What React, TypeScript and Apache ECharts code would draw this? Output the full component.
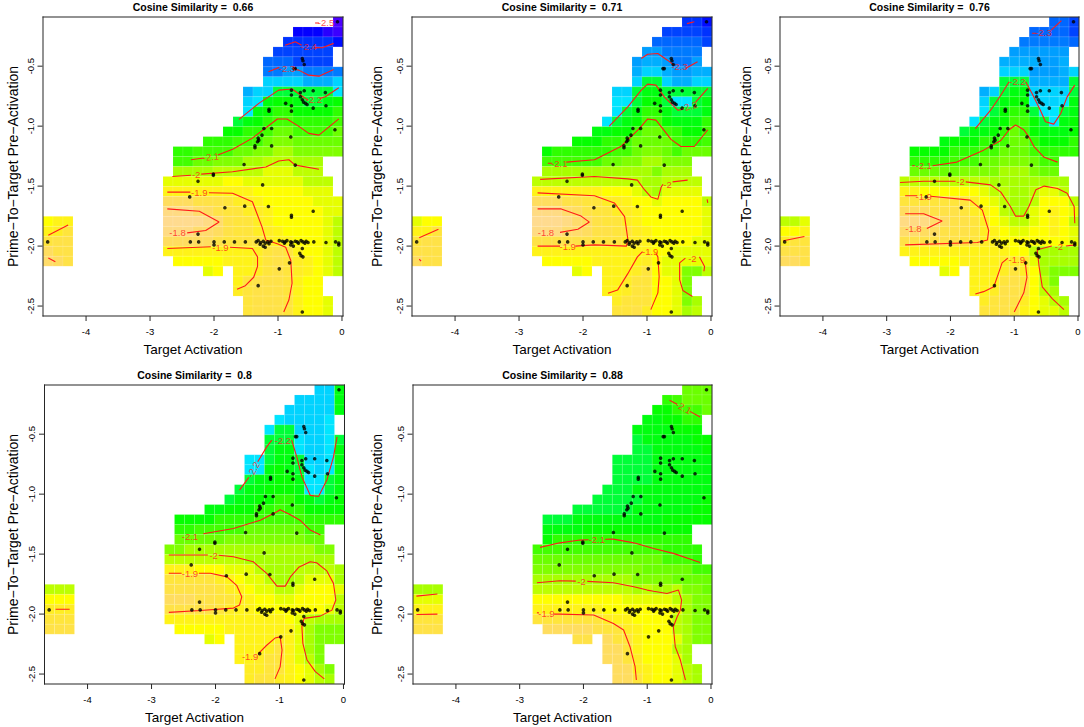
import React, { useEffect, useRef } from "react";
import * as echarts from "echarts";

const FONT = "'Liberation Sans', Arial, Helvetica, sans-serif";
const X_MIN = -4.673, X_MAX = 0.016, Y_MIN = -2.583, Y_MAX = -0.09;
const NCOL = 30, NROW = 30;
const DX = (X_MAX - X_MIN) / NCOL, DY = (Y_MAX - Y_MIN) / NROW;
const Z_MIN = -2.52, Z_MAX = -1.70;
// z = -2.55 + 0.025 * index of char; "." = cell outside the colour range (left blank)
const LEVELS = "0123456789ABCDEFGHIJKLMNOPQRSTUVWX";
const X_TICKS = [-4, -3, -2, -1, 0];
const Y_TICKS = [-2.5, -2, -1.5, -1, -0.5];
const TITLES = ["0.66", "0.71", "0.76", "0.8", "0.88"];

// filled column ranges per grid row (row 0 = top)
const MASK: number[][][] = [
  [[27, 29]], [[25, 29]], [[24, 29]], [[23, 28]], [[22, 28]], [[22, 29]], [[22, 29]],
  [[20, 29]], [[20, 29]], [[20, 29]], [[19, 29]], [[18, 29]], [[16, 29]], [[13, 29]],
  [[13, 27]], [[13, 27]], [[12, 28]], [[12, 28]], [[12, 29]], [[12, 29]],
  [[0, 2], [12, 29]], [[0, 2], [12, 29]], [[0, 2], [12, 29]], [[0, 2], [12, 29]],
  [[0, 2], [13, 29]], [[16, 17], [19, 29]], [[19, 27]], [[19, 27]], [[20, 28]], [[20, 28]],
];

const Z_066 = [
  "..0", "44432", "666665", "777777", "8887777", "99AA9999", "CCCCBBBC",
  "BCCEEEEEED", "CDFGGFEEFG", "DFGHHGGGGH", "EFGHIIHHHHI", "GGHHIJJIIIIJ",
  "HHHIIIJKKJJJJJ", "HHIIIIJJKKLLKKKKK", "IIJJKKKLLMMMLLL", "LLLLMMMMMNNNMMM",
  "NNNNNNOONNNNNNMMM", "PPPPPPPPPOOOOONNN", "TTTSSSRQQPOOOOONNN", "VVVUTSRRQQPOOOOONN",
  "OPPWWWWVUSRRQPOOOOONM", "PQRVVVUUTSRRQQPOOOONM", "RSSTTTTTSRRRRQPPOOONM",
  "TSSPPPPPPPPPQRSRPOONM", "UTSOOOOOPPPQRSRQPONM", "NOPPQRSRQPONM",
  "PRSSSRPOO", "QRSSSRPOO", "RSSSRPOON", "RSSSRPOON",
];
const Z_071 = [
  "665", "77776", "888887", "AA9999", "ABBA99A", "BCCBAABB", "CEECBBCC",
  "CCEFFEEEEE", "DDEGGEDDEF", "DEFHHFEEEF", "DEFGIIGFFFH", "FFGGIJJIHGGI",
  "GGGHHIJJJJIHHI", "GHHHHHHIIJKKJIJJJ", "IIIIIIJJKKLLKKK", "LLLLLLLLLLLKLLL",
  "MMMMMMMMMMMLLMMMM", "PPPPPPPOOONMLNNNN", "TTTSSRRQQPOONOOOOM", "VVVUTSRRQQPOOOOOON",
  "NOOWWWVUTSRRQPOOOOOON", "PPRVVVUUTSSRRQPOOOOON", "RSSSSSSSSRRRQQPOOOONN",
  "SSSPPPPPPPPPPPPOONNNN", "TSSOOOOOPPPPPQONNNNN", "NOPPPQRONNKKM",
  "PPQRROONK", "PPQRROONK", "QRRROONKL", "RRSQOONLM",
];
const Z_076 = [
  "887", "88887", "999998", "AAAAAA", "BBBBAAB", "CCCAAABC", "EEEBBBBE",
  "BCEFFCCCCE", "CEFGGDCCDF", "DEGHHEDDEF", "DEFGIIGEDFG", "EFFGHJIGFFFG",
  "FGGGHHIJJHGGGH", "GGGGHHHIIJJJIHHHH", "HHHHIIIJJKKKJII", "JJJJJKKKKLLLKJJ",
  "MMMMMMMMMLLLLLLLL", "PPOOOOOONMMLLMNNM", "RRRRRRRQONMLLMOOOM", "TTTSSSRQPOMLLNOPON",
  "MMNVVVUTSSRQONMMNOPOM", "OOPUUTTSSSRQPONNOOPON", "QRRSSSSSSRRQPOOOOOOON",
  "SSSPPPPPPPPPPPOOMLLLL", "TTSOOOOOPPPPQQQNLLLL", "NOPPPQRQOLKKK",
  "PPPRSROMK", "PPQSSROML", "QRSSQONML", "RRSRPONNM",
];
const Z_080 = [
  "CCF", "CCCCF", "CCCCCF", "DCCCCD", "DEECCCD", "EEEDCCDE", "EFFDCCDF",
  "DDEFFECCDF", "DDFGFEDCDF", "EFFGGFDDEF", "EFFGGGFDDEF", "EFFGGHHGFEFG",
  "FFGGGHHIHHGGGG", "GGGGHHHHIIIIIHHHH", "HHIIIIIJJJJJJII", "JJJJJKKKKKKKKJJ",
  "KKLLLLLLLLLLLLLKK", "MMMMMMMMLLLLLLLLL", "PPPOOONNNMLLLMMMML", "RRRRRQPONNMLLMNNNL",
  "MMMSSSSSRQPONNMMNOOON", "OOOTTTSSRRQPOONNOOOOM", "QQQSSSSSRQPPOOOOOOONM",
  "RRRPPPPPPPPPPPPONMLLL", "SSSOOOOOPPPPPPPNLKKK", "NOPPPPQPNLKKK",
  "PPPQRPNLK", "PPQRRPNMK", "QQRRPONLK", "QRRQPONML",
];
const Z_088 = [
  "JJJ", "HIJJJ", "GGHIIJ", "FFGGHH", "FFFFGGG", "EFFFFFGG", "EEFFFFFG",
  "EEEEFFFFFF", "EEEEFFFFFF", "EEEEFFFFFF", "EEEFFFFFFFF", "EEEEEFFFFFFG",
  "EEEEEEFFFFFFGG", "EEEFFFFFFFFFGGGGG", "FFFFGGGGGGGGGGG", "GHHHHHHHHHHHHHH",
  "IIIIIIIIIIIIIHHHH", "JJJJJJJJJJJJJIIIH", "KKKKKKKKKKKJJJJJII", "LLLLLLLLLLKKKKJJJJ",
  "LLLMMMMMMMMMMLMLLMKKJ", "NNNOOOOOOOOONNNNNMLKK", "PPPPPPPPPPOOOOOOONLKK",
  "RRRRRRRRRRQPPOOOOMLKK", "SSSTTTTTSRRQPOOOMLKK", "SSTRRPOOONLKK",
  "TTRPOOOML", "TTRQOOONL", "TTQPOONML", "TTRPOONML",
];

const POINTS = [
  [-4.6, -1.965],
  [-2.37, -1.965], [-2.24, -1.965], [-2.0, -1.965], [-1.84, -1.965], [-1.68, -1.965], [-1.51, -1.965],
  [-1.34, -1.965], [-1.31, -1.955], [-1.27, -1.97], [-1.23, -1.96], [-1.2, -1.975], [-1.16, -1.965],
  [-1.11, -1.96], [-0.98, -1.955], [-0.93, -1.96], [-0.89, -1.965], [-0.86, -1.955], [-0.8, -1.965],
  [-0.78, -1.97], [-0.73, -1.96], [-0.7, -1.965], [-0.64, -1.955], [-0.61, -1.965], [-0.56, -1.96],
  [-0.53, -1.97], [-0.44, -1.965], [-0.25, -1.97], [-0.1, -1.965], [-0.05, -1.975],
  [-2.0, -1.99], [-1.23, -2.0], [-1.2, -2.01], [-1.28, -1.985], [-0.8, -1.99], [-0.76, -2.0],
  [-0.62, -2.02], [-0.66, -2.06], [-0.64, -2.08], [-0.61, -2.09], [-0.82, -2.14], [-0.98, -2.19],
  [-1.31, -2.33], [-0.62, -2.55], [-2.25, -1.9], [-0.05, -1.99], [-0.68, -1.975], [-0.58, -1.975],
  [-0.9, -1.975], [-1.14, -1.98],
  [-2.38, -1.59], [-2.25, -1.46], [-2.01, -1.4], [-2.01, -1.41], [-1.83, -1.68], [-1.52, -1.667],
  [-1.53, -1.32], [-1.24, -1.49], [-1.15, -1.67], [-0.79, -1.744], [-0.79, -1.76], [-0.45, -1.71],
  [-0.73, -1.325], [-0.8, -1.09], [-1.1, -1.165], [-1.36, -1.165], [-1.36, -1.18], [-1.32, -1.13],
  [-1.3, -1.117], [-1.31, -1.1], [-1.25, -1.075], [-1.22, -1.02], [-1.1, -1.02], [-0.11, -1.03],
  [-1.14, -0.86], [-1.14, -0.875], [-0.79, -0.875], [-0.79, -0.83], [-0.45, -0.85], [-0.25, -0.83],
  [-0.88, -0.81], [-0.62, -0.78], [-0.6, -0.8], [-0.57, -0.81], [-0.545, -0.82], [-0.79, -0.7],
  [-0.59, -0.705], [-0.65, -0.72], [-0.45, -0.705], [-0.26, -0.72], [-0.79, -0.74], [-0.65, -0.755],
  [-0.75, -0.52], [-0.73, -0.52], [-0.62, -0.436], [-0.61, -0.455], [-0.59, -0.486], [-0.07, -0.13],
];

type Contour = { lv: string; segs: number[][][]; labels: number[][] };

const CONTOURS_066: Contour[] = [
  { lv: "-2.5", segs: [[[-0.42, -0.14], [-0.36, -0.14]]], labels: [[-0.25, -0.14, 0]] },
  { lv: "-2.4", segs: [[[-0.89, -0.325], [-0.73, -0.297], [-0.63, -0.325]], [[-0.42, -0.345], [-0.31, -0.347], [-0.13, -0.31]]], labels: [[-0.52, -0.34, 0]] },
  { lv: "-2.3", segs: [[[-1.15, -0.547], [-0.98, -0.51]], [[-0.75, -0.525], [-0.675, -0.533], [-0.52, -0.575], [-0.36, -0.583], [-0.13, -0.528]]], labels: [[-0.86, -0.52, 0]] },
  { lv: "-2.2", segs: [[[-1.61, -0.944], [-1.3, -0.81], [-0.99, -0.7], [-0.78, -0.69], [-0.57, -0.77], [-0.53, -0.78]], [[-0.35, -0.77], [-0.26, -0.755], [-0.05, -0.68]]], labels: [[-0.44, -0.78, 0]] },
  { lv: "-2.1", segs: [[[-2.36, -1.28], [-2.16, -1.265]], [[-1.94, -1.24], [-1.7, -1.19], [-1.4, -1.1], [-1.01, -0.94], [-0.86, -0.94], [-0.68, -1.0], [-0.52, -1.06], [-0.36, -1.075], [-0.05, -0.94]]], labels: [[-2.05, -1.255, 5]] },
  { lv: "-2", segs: [[[-2.65, -1.42], [-2.36, -1.41]], [[-2.2, -1.4], [-1.71, -1.38], [-1.19, -1.34], [-0.99, -1.29], [-0.83, -1.28], [-0.73, -1.325], [-0.36, -1.36]]], labels: [[-2.28, -1.405, 0]] },
  { lv: "-1.9", segs: [[[-2.73, -1.55], [-2.37, -1.55]], [[-2.08, -1.555], [-1.71, -1.56], [-1.4, -1.63], [-1.25, -1.84], [-1.19, -1.95], [-1.01, -1.98], [-0.88, -2.01], [-0.8, -2.12], [-0.78, -2.31], [-0.83, -2.45], [-0.91, -2.55]]], labels: [[-2.23, -1.55, 0]] },
  { lv: "-1.8", segs: [[[-2.73, -1.69], [-2.23, -1.71], [-1.92, -1.8], [-2.13, -1.87], [-2.42, -1.89]]], labels: [[-2.57, -1.89, 0]] },
  { lv: "-1.9", segs: [[[-2.73, -2.02], [-2.05, -2.005]], [[-1.75, -2.01], [-1.4, -2.02], [-1.32, -2.09], [-1.32, -2.17], [-1.38, -2.26], [-1.51, -2.33], [-1.64, -2.36]]], labels: [[-1.9, -2.01, 0]] },
  { lv: "", segs: [[[-4.59, -1.91], [-4.28, -1.825]], [[-4.59, -2.1], [-4.48, -2.13]]], labels: [] },
];
const CONTOURS_071: Contour[] = [
  { lv: "", segs: [[[-0.375, -0.145], [-0.26, -0.13]]], labels: [] },
  { lv: "-2.3", segs: [[[-1.09, -0.436], [-0.99, -0.4], [-0.83, -0.394], [-0.68, -0.45], [-0.58, -0.49]], [[-0.4, -0.52], [-0.21, -0.464]]], labels: [[-0.49, -0.505, 0]] },
  { lv: "-2.2", segs: [[[-1.59, -1.0], [-1.3, -0.839], [-1.09, -0.7], [-0.99, -0.65], [-0.86, -0.658], [-0.73, -0.756], [-0.52, -0.867], [-0.45, -0.86]], [[-0.24, -0.8], [-0.05, -0.686]]], labels: [[-0.34, -0.835, 15]] },
  { lv: "-2.1", segs: [[[-2.55, -1.31], [-2.48, -1.31]], [[-2.26, -1.3], [-1.82, -1.28], [-1.41, -1.17], [-1.12, -1.02], [-0.99, -0.94], [-0.86, -0.95], [-0.755, -1.02], [-0.625, -1.11], [-0.47, -1.17], [-0.26, -1.17], [-0.05, -1.03]]], labels: [[-2.37, -1.31, 0]] },
  { lv: "-2", segs: [[[-2.67, -1.444], [-1.82, -1.42], [-1.3, -1.44], [-1.15, -1.45], [-1.04, -1.53], [-0.94, -1.59], [-0.83, -1.61], [-0.78, -1.51], [-0.75, -1.485]], [[-0.6, -1.465], [-0.365, -1.45]], [[-0.06, -1.61], [-0.05, -1.64]]], labels: [[-0.68, -1.49, 0]] },
  { lv: "-1.9", segs: [[[-2.71, -1.556], [-1.82, -1.58], [-1.51, -1.64], [-1.35, -1.755], [-1.3, -1.94], [-1.32, -2.0], [-1.82, -1.99], [-2.12, -2.0]], [[-2.36, -2.0], [-2.71, -2.0]]], labels: [[-2.24, -2.0, 0]] },
  { lv: "-1.8", segs: [[[-2.71, -1.69], [-2.34, -1.69], [-2.03, -1.75], [-1.9, -1.8], [-2.08, -1.86], [-2.36, -1.886]]], labels: [[-2.58, -1.886, 0]] },
  { lv: "-1.9", segs: [[[-1.61, -2.394], [-1.46, -2.367], [-1.3, -2.23], [-1.15, -2.09], [-1.07, -2.047]], [[-0.86, -2.06], [-0.83, -2.09], [-0.81, -2.255], [-0.83, -2.39], [-0.94, -2.53]]], labels: [[-0.95, -2.047, 0]] },
  { lv: "-2", segs: [[[-0.29, -2.42], [-0.44, -2.37], [-0.49, -2.28], [-0.49, -2.14], [-0.4, -2.1]], [[-0.18, -2.09], [-0.1, -2.17], [-0.11, -2.21]]], labels: [[-0.29, -2.1, 0]] },
  { lv: "", segs: [[[-4.56, -1.93], [-4.26, -1.86]], [[-4.56, -2.11], [-4.53, -2.125]]], labels: [] },
];
const CONTOURS_076: Contour[] = [
  { lv: "-2.3", segs: [[[-0.72, -0.225], [-0.66, -0.225]], [[-0.42, -0.2], [-0.26, -0.12]]], labels: [[-0.54, -0.222, 0]] },
  { lv: "-2.2", segs: [[[-1.61, -1.02], [-1.37, -0.867], [-1.21, -0.742], [-1.08, -0.63]], [[-0.82, -0.63], [-0.72, -0.728], [-0.59, -0.867], [-0.51, -0.964], [-0.38, -0.983], [-0.27, -0.894], [-0.17, -0.756], [-0.05, -0.658]]], labels: [[-0.95, -0.63, 0]] },
  { lv: "-2.1", segs: [[[-2.6, -1.33], [-2.56, -1.33]], [[-2.28, -1.33], [-1.9, -1.3], [-1.48, -1.2], [-1.21, -1.12], [-1.08, -1.03], [-0.98, -0.99], [-0.85, -1.03], [-0.77, -1.09], [-0.69, -1.17], [-0.53, -1.26], [-0.32, -1.3]]], labels: [[-2.42, -1.33, 0]] },
  { lv: "-2", segs: [[[-2.79, -1.47], [-2.42, -1.46], [-1.92, -1.46]], [[-1.76, -1.465], [-1.37, -1.49], [-1.21, -1.55], [-1.06, -1.67], [-0.98, -1.75], [-0.85, -1.75], [-0.77, -1.67], [-0.66, -1.53], [-0.53, -1.5], [-0.32, -1.52], [-0.17, -1.56], [-0.06, -1.67], [-0.05, -1.81]]], labels: [[-1.84, -1.464, 0]] },
  { lv: "-2", segs: [[[-0.04, -1.99], [-0.19, -2.0]], [[-0.41, -2.0], [-0.64, -2.03], [-0.61, -2.17], [-0.56, -2.34], [-0.4, -2.44], [-0.22, -2.53]]], labels: [[-0.3, -2.0, 0]] },
  { lv: "-1.9", segs: [[[-2.71, -1.58], [-2.52, -1.58]], [[-2.31, -1.585], [-1.69, -1.617], [-1.5, -1.7], [-1.4, -1.87], [-1.42, -1.95], [-1.58, -1.97], [-2.71, -1.99]]], labels: [[-2.42, -1.583, 0]] },
  { lv: "-1.8", segs: [[[-2.71, -1.73], [-2.42, -1.73], [-2.13, -1.79], [-2.37, -1.853]]], labels: [[-2.58, -1.85, 0]] },
  { lv: "-1.9", segs: [[[-1.61, -2.4], [-1.48, -2.38], [-1.32, -2.34], [-1.19, -2.14], [-1.1, -2.1]], [[-0.83, -2.12], [-0.8, -2.26], [-0.85, -2.39], [-1.0, -2.55]]], labels: [[-0.96, -2.115, 0]] },
  { lv: "", segs: [[[-4.62, -1.955], [-4.29, -1.92]]], labels: [] },
];
const CONTOURS_080: Contour[] = [
  { lv: "-2.2", segs: [[[-1.625, -0.967], [-1.48, -0.86]], [[-1.34, -0.73], [-1.2, -0.606], [-1.12, -0.55]], [[-0.81, -0.55], [-0.73, -0.69], [-0.65, -0.856], [-0.52, -1.01], [-0.39, -1.02], [-0.26, -0.883], [-0.156, -0.689], [-0.1, -0.522]]], labels: [[-1.41, -0.795, 62], [-0.95, -0.553, 0]] },
  { lv: "-2.1", segs: [[[-2.19, -1.33], [-1.72, -1.286], [-1.3, -1.217], [-1.04, -1.147], [-0.99, -1.13], [-0.83, -1.172], [-0.68, -1.217], [-0.52, -1.3], [-0.36, -1.34]]], labels: [[-2.4, -1.35, 0]] },
  { lv: "-2", segs: [[[-2.73, -1.508], [-2.12, -1.508]], [[-1.95, -1.51], [-1.72, -1.522], [-1.41, -1.564], [-1.2, -1.66], [-1.04, -1.767], [-0.91, -1.767], [-0.83, -1.69], [-0.7, -1.61], [-0.52, -1.564], [-0.42, -1.572], [-0.26, -1.64], [-0.156, -1.744], [-0.12, -1.883], [-0.18, -1.967], [-0.365, -2.017], [-0.615, -2.036], [-0.65, -2.106], [-0.635, -2.244], [-0.57, -2.383], [-0.44, -2.48], [-0.3, -2.54]]], labels: [[-2.03, -1.508, 0]] },
  { lv: "-1.9", segs: [[[-2.73, -1.66], [-2.53, -1.66]], [[-2.26, -1.66], [-2.08, -1.66], [-1.82, -1.69], [-1.67, -1.76], [-1.59, -1.856], [-1.625, -1.925], [-1.72, -1.95], [-2.24, -1.97], [-2.73, -1.986]]], labels: [[-2.4, -1.66, 0]] },
  { lv: "-1.9", segs: [[[-1.33, -2.33], [-1.2, -2.26], [-1.07, -2.2], [-0.99, -2.19], [-0.96, -2.3], [-0.99, -2.44], [-1.07, -2.54]]], labels: [[-1.46, -2.35, 0]] },
  { lv: "", segs: [[[-4.5, -1.96], [-4.28, -1.96]]], labels: [] },
];
const CONTOURS_088: Contour[] = [
  { lv: "-2.1", segs: [[[-0.65, -0.217], [-0.53, -0.25]], [[-0.33, -0.31], [-0.17, -0.356]]], labels: [[-0.43, -0.278, -28]] },
  { lv: "-2.1", segs: [[[-2.68, -1.444], [-2.37, -1.406], [-2.05, -1.383], [-1.92, -1.38]], [[-1.66, -1.376], [-1.53, -1.375], [-1.21, -1.406], [-0.9, -1.453], [-0.59, -1.494], [-0.17, -1.57]]], labels: [[-1.79, -1.378, 0]] },
  { lv: "-2", segs: [[[-2.73, -1.739], [-2.37, -1.722], [-2.12, -1.725]], [[-1.94, -1.727], [-1.53, -1.739], [-1.21, -1.772], [-1.0, -1.8], [-0.9, -1.81], [-0.69, -1.828], [-0.51, -1.8], [-0.46, -1.883], [-0.48, -1.967], [-0.53, -2.022], [-0.59, -2.106], [-0.56, -2.272], [-0.48, -2.383], [-0.4, -2.55]]], labels: [[-2.03, -1.73, 0]] },
  { lv: "-1.9", segs: [[[-2.73, -1.989], [-2.7, -1.99]], [[-2.46, -2.0], [-2.37, -2.0], [-1.84, -2.008], [-1.53, -2.078], [-1.37, -2.133], [-1.27, -2.272], [-1.19, -2.439], [-1.17, -2.55]]], labels: [[-2.58, -1.994, 0]] },
  { lv: "", segs: [[[-4.62, -1.85], [-4.29, -1.833]], [[-4.62, -2.003], [-4.29, -2.0]]], labels: [] },
];

const Z_GRIDS = [Z_066, Z_071, Z_076, Z_080, Z_088];
const CONTOURS = [CONTOURS_066, CONTOURS_071, CONTOURS_076, CONTOURS_080, CONTOURS_088];

const PANELS = [
  { left: 43, top: 17, width: 300, height: 299, ylab: 13 },
  { left: 412, top: 17, width: 300, height: 299, ylab: 377 },
  { left: 780, top: 17, width: 299, height: 299, ylab: 746 },
  { left: 44.5, top: 385, width: 300, height: 299, ylab: 13 },
  { left: 413, top: 385, width: 299, height: 299, ylab: 377 },
];

function hsv(h: number, s: number, v: number): string {
  const i = Math.floor(h * 6);
  const f = h * 6 - i;
  const p = v * (1 - s), q = v * (1 - f * s), t = v * (1 - (1 - f) * s);
  let r = 0, g = 0, b = 0;
  switch (((i % 6) + 6) % 6) {
    case 0: r = v; g = t; b = p; break;
    case 1: r = q; g = v; b = p; break;
    case 2: r = p; g = v; b = t; break;
    case 3: r = p; g = q; b = v; break;
    case 4: r = t; g = p; b = v; break;
    default: r = v; g = p; b = q;
  }
  return `rgb(${Math.round(r * 255)},${Math.round(g * 255)},${Math.round(b * 255)})`;
}

function topoColors(n: number): string[] {
  const j = Math.floor(n / 3), k = Math.floor(n / 3), i = n - j - k;
  const seq = (a: number, b: number, len: number) =>
    Array.from({ length: len }, (_, t) => (len === 1 ? a : a + ((b - a) * t) / (len - 1)));
  const out: string[] = [];
  seq(43 / 60, 31 / 60, i).forEach((h) => out.push(hsv(h, 1, 1)));
  seq(23 / 60, 11 / 60, j).forEach((h) => out.push(hsv(h, 1, 1)));
  const hs = seq(10 / 60, 6 / 60, k), ss = seq(1, 0.3, k);
  hs.forEach((h, t) => out.push(hsv(h, ss[t], 1)));
  return out;
}
const PALETTE = topoColors(50);
function colorOf(z: number): string {
  let idx = Math.floor(((z - Z_MIN) / (Z_MAX - Z_MIN)) * 50);
  if (idx < 0) idx = 0;
  if (idx > 49) idx = 49;
  return PALETTE[idx];
}

function cellData(rows: string[]): number[][] {
  const out: number[][] = [];
  for (let r = 0; r < NROW; r++) {
    const str = rows[r] || "";
    let n = 0;
    for (const [a, b] of MASK[r]) {
      for (let c = a; c <= b; c++) {
        const ch = str[n] !== undefined ? str[n] : str[str.length - 1];
        n++;
        const k = LEVELS.indexOf(ch);
        if (k < 0) continue;
        const z = -2.55 + 0.025 * k;
        out.push([X_MIN + DX * (c + 0.5), Y_MAX - DY * (r + 0.5), z]);
      }
    }
  }
  return out;
}

function frameItem(_params: any, api: any) {
  const bl = api.coord([X_MIN, Y_MIN]);
  const tr = api.coord([X_MAX, Y_MAX]);
  const L = bl[0], B = bl[1], R = tr[0], T = tr[1];
  const fill = { fill: "#262626" };
  const children: any[] = [
    { type: "rect", shape: { x: L - 0.5, y: T - 0.5, width: R - L + 1, height: 1 }, style: fill },
    { type: "rect", shape: { x: L - 0.5, y: B - 0.5, width: R - L + 1, height: 1 }, style: fill },
    { type: "rect", shape: { x: L - 0.5, y: T - 0.5, width: 1, height: B - T + 1 }, style: fill },
    { type: "rect", shape: { x: R - 0.5, y: T - 0.5, width: 1, height: B - T + 1 }, style: fill },
  ];
  X_TICKS.forEach((t) => {
    const px = api.coord([t, Y_MIN])[0];
    children.push({ type: "rect", shape: { x: px - 0.5, y: B, width: 1, height: 5 }, style: fill });
  });
  Y_TICKS.forEach((t) => {
    const py = api.coord([X_MIN, t])[1];
    children.push({ type: "rect", shape: { x: L - 5.5, y: py - 0.5, width: 5, height: 1 }, style: fill });
  });
  return { type: "group", children };
}

function buildOption() {
  const grid: any[] = [], xAxis: any[] = [], yAxis: any[] = [], series: any[] = [], graphic: any[] = [];
  PANELS.forEach((p, i) => {
    grid.push({ left: p.left, top: p.top, width: p.width, height: p.height, show: false });
    xAxis.push({
      type: "value", gridIndex: i, min: X_MIN, max: X_MAX, position: "bottom",
      axisLine: { show: false, onZero: false },
      axisTick: { show: false },
      axisLabel: { show: true, customValues: X_TICKS, formatter: (v: number) => String(v), fontSize: 9.5, color: "#000", margin: 10, fontFamily: FONT },
      splitLine: { show: false },
    });
    yAxis.push({
      type: "value", gridIndex: i, min: Y_MIN, max: Y_MAX, position: "left",
      axisLine: { show: false, onZero: false },
      axisTick: { show: false },
      axisLabel: { show: true, customValues: Y_TICKS, formatter: (v: number) => v.toFixed(1), fontSize: 9.5, color: "#000", margin: 8, rotate: 90, fontFamily: FONT },
      splitLine: { show: false },
    });
    series.push({
      type: "custom", xAxisIndex: i, yAxisIndex: i, silent: true, z: 1,
      data: cellData(Z_GRIDS[i]),
      encode: { x: 0, y: 1 },
      renderItem: (_params: any, api: any) => {
        const cx = api.value(0), cy = api.value(1), z = api.value(2);
        const p0 = api.coord([cx - DX / 2, cy + DY / 2]);
        const p1 = api.coord([cx + DX / 2, cy - DY / 2]);
        return {
          type: "rect",
          shape: { x: p0[0], y: p0[1], width: p1[0] - p0[0], height: p1[1] - p0[1] },
          style: { fill: colorOf(z), stroke: "rgba(255,255,255,0.16)", lineWidth: 0.6 },
        };
      },
    });
    CONTOURS[i].forEach((ct) => {
      ct.segs.forEach((seg) => {
        series.push({
          type: "line", xAxisIndex: i, yAxisIndex: i, silent: true, z: 2,
          data: seg, symbol: "none", showSymbol: false,
          lineStyle: { color: "#FF1A1A", width: 1.1 },
        });
      });
    });
    const labels: any[] = [];
    CONTOURS[i].forEach((ct) => {
      ct.labels.forEach((l) => labels.push({ value: [l[0], l[1]], name: ct.lv, label: { rotate: l[2] } }));
    });
    series.push({
      type: "scatter", xAxisIndex: i, yAxisIndex: i, silent: true, z: 4,
      data: labels, symbolSize: 1, itemStyle: { color: "rgba(0,0,0,0)" },
      label: { show: true, position: "inside", formatter: "{b}", color: "#FF1A1A", fontSize: 9.5, fontFamily: FONT },
    });
    series.push({
      type: "scatter", xAxisIndex: i, yAxisIndex: i, silent: true, z: 3,
      data: POINTS, symbolSize: 3.6, itemStyle: { color: "#000" },
    });
    // plot box and outward tick marks
    series.push({
      type: "custom", xAxisIndex: i, yAxisIndex: i, silent: true, z: 10, clip: false,
      data: [[X_MIN, Y_MIN]], encode: { x: 0, y: 1 },
      renderItem: frameItem,
    });
    graphic.push({
      type: "text", z: 100, silent: true, x: p.left + p.width / 2, y: p.top - 10,
      style: { text: `Cosine Similarity =  ${TITLES[i]}`, fontSize: 10.5, fontWeight: "bold", fontFamily: FONT, fill: "#000", textAlign: "center", textVerticalAlign: "middle" },
    });
    graphic.push({
      type: "text", z: 100, silent: true, x: p.left + p.width / 2, y: p.top + p.height + 33,
      style: { text: "Target Activation", fontSize: 13.5, fontFamily: FONT, fill: "#000", textAlign: "center", textVerticalAlign: "middle" },
    });
    graphic.push({
      type: "text", z: 100, silent: true, x: p.ylab, y: p.top + p.height / 2, rotation: Math.PI / 2,
      style: { text: "Prime\u2212To\u2212Target Pre\u2212Activation", fontSize: 14, fontFamily: FONT, fill: "#000", textAlign: "center", textVerticalAlign: "middle" },
    });
  });
  return { animation: false, grid, xAxis, yAxis, series, graphic };
}

export default function App() {
  const ref = useRef<HTMLDivElement>(null);
  useEffect(() => {
    document.body.style.margin = "0";
    document.body.style.background = "#fff";
    const chart = echarts.init(ref.current as HTMLDivElement, null, { renderer: "svg" });
    chart.setOption(buildOption() as any);
    return () => chart.dispose();
  }, []);
  return <div ref={ref} style={{ width: 1084, height: 727 }} />;
}
